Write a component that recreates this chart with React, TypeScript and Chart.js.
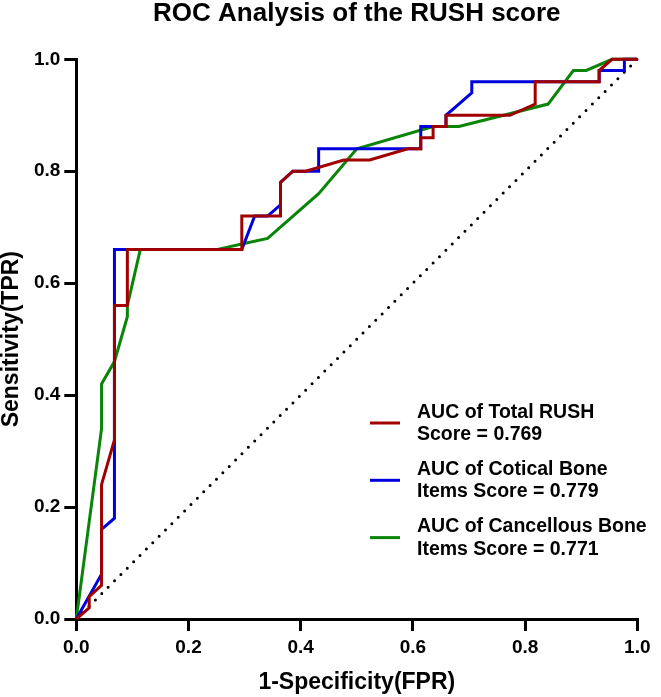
import React, { useEffect, useRef } from 'react';
import { Chart, registerables } from 'chart.js';

Chart.register(...registerables);

const TITLE = 'ROC Analysis of the RUSH score';
const X_TITLE = '1-Specificity(FPR)';
const Y_TITLE = 'Sensitivity(TPR)';
const TICK_VALUES = [0, 0.2, 0.4, 0.6, 0.8, 1.0];

// AUC of Total RUSH Score (red)
const TOTAL_FPR = [0, 0.023, 0.023, 0.045, 0.045, 0.068, 0.068, 0.091, 0.091, 0.295, 0.295, 0.364, 0.364, 0.386, 0.409, 0.477, 0.523, 0.591, 0.614, 0.614, 0.636, 0.636, 0.659, 0.659, 0.773, 0.818, 0.818, 0.932, 0.932, 0.955, 1.0];
const TOTAL_TPR = [0, 0.02, 0.04, 0.06, 0.24, 0.32, 0.56, 0.56, 0.66, 0.66, 0.72, 0.72, 0.78, 0.80, 0.80, 0.82, 0.82, 0.84, 0.84, 0.86, 0.86, 0.88, 0.88, 0.90, 0.90, 0.92, 0.96, 0.96, 0.98, 1.0, 1.0];

// AUC of Cotical Bone Items Score (blue)
const CORTICAL_FPR = [0, 0.045, 0.045, 0.068, 0.068, 0.295, 0.318, 0.341, 0.364, 0.364, 0.386, 0.432, 0.432, 0.614, 0.614, 0.659, 0.659, 0.705, 0.705, 0.932, 0.932, 0.977, 0.977, 1.0];
const CORTICAL_TPR = [0, 0.08, 0.16, 0.18, 0.66, 0.66, 0.72, 0.72, 0.74, 0.78, 0.80, 0.80, 0.84, 0.84, 0.88, 0.88, 0.90, 0.94, 0.96, 0.96, 0.98, 0.98, 1.0, 1.0];

// AUC of Cancellous Bone Items Score (green)
const CANCELLOUS_FPR = [0, 0.045, 0.045, 0.068, 0.091, 0.091, 0.114, 0.250, 0.295, 0.341, 0.432, 0.500, 0.636, 0.682, 0.841, 0.886, 0.909, 0.955, 1.0];
const CANCELLOUS_TPR = [0, 0.34, 0.42, 0.46, 0.54, 0.56, 0.66, 0.66, 0.67, 0.68, 0.76, 0.84, 0.88, 0.88, 0.92, 0.98, 0.98, 1.0, 1.0];

// Reference diagonal
const REF_FPR = [0, 1];
const REF_TPR = [0, 1];

const LEGEND_LABELS = [
  ['AUC of Total RUSH', 'Score = 0.769'],
  ['AUC of Cotical Bone', 'Items Score = 0.779'],
  ['AUC of Cancellous Bone', 'Items Score = 0.771'],
];

const RED = '#a00000';
const BLUE = '#0000dd';
const GREEN = '#0a850a';
const SERIES_COLORS = [RED, BLUE, GREEN];
const FONT_FAMILY = '"Liberation Sans", Arial, Helvetica, sans-serif';

const toPoints = (xs: number[], ys: number[]) => xs.map((x, i) => ({ x, y: ys[i] }));

const legendPlugin = {
  id: 'rocLegend',
  afterDraw(chart: any) {
    const ctx = chart.ctx as CanvasRenderingContext2D;
    ctx.save();
    ctx.font = `bold 19.5px ${FONT_FAMILY}`;
    ctx.textBaseline = 'middle';
    ctx.textAlign = 'left';
    LEGEND_LABELS.forEach((lines, i) => {
      const cy = 423 + i * 57.3;
      ctx.strokeStyle = SERIES_COLORS[i];
      ctx.lineWidth = 3;
      ctx.beginPath();
      ctx.moveTo(370, cy);
      ctx.lineTo(400, cy);
      ctx.stroke();
      ctx.fillStyle = '#000';
      lines.forEach((t, j) => {
        ctx.fillText(t, 417, cy + 0.5 + (j - (lines.length - 1) / 2) * 22.3);
      });
    });
    ctx.restore();
  },
};

function axisOptions(isX: boolean) {
  return {
    type: 'linear',
    min: 0,
    max: 1,
    afterFit: (s: any) => {
      if (isX) s.height = 78;
      else s.width = 76.3;
    },
    afterBuildTicks: (s: any) => {
      s.ticks = TICK_VALUES.map((v) => ({ value: v }));
    },
    border: { display: true, color: '#000', width: 3 },
    grid: {
      drawOnChartArea: false,
      drawTicks: true,
      tickLength: 12,
      tickWidth: 3,
      tickColor: '#000',
      color: '#000',
      lineWidth: 3,
    },
    ticks: {
      padding: isX ? 5.6 : 4,
      color: '#000',
      autoSkip: false,
      maxRotation: 0,
      font: { size: 19, weight: 'bold', family: FONT_FAMILY },
      callback: (v: any) => Number(v).toFixed(1),
    },
    title: {
      display: true,
      text: isX ? X_TITLE : Y_TITLE,
      color: '#000',
      font: { size: 23, weight: 'bold', family: FONT_FAMILY, lineHeight: isX ? 1.2 : 1.05 },
      padding: isX ? { top: 0, bottom: 0.2 } : { top: 0, bottom: 0 },
    },
  };
}

export default function App() {
  const canvasRef = useRef<HTMLCanvasElement | null>(null);

  useEffect(() => {
    const canvas = canvasRef.current;
    if (!canvas) return;
    const line = (label: string, xs: number[], ys: number[], color: string, extra: any = {}) => ({
      label,
      data: toPoints(xs, ys),
      showLine: true,
      borderColor: color,
      backgroundColor: color,
      borderWidth: 3,
      pointRadius: 0,
      pointHoverRadius: 0,
      tension: 0,
      fill: false,
      clip: 4,
      ...extra,
    });
    const chart = new Chart(canvas, {
      type: 'scatter',
      data: {
        datasets: [
          line('AUC of Total RUSH Score = 0.769', TOTAL_FPR, TOTAL_TPR, RED),
          line('AUC of Cotical Bone Items Score = 0.779', CORTICAL_FPR, CORTICAL_TPR, BLUE),
          line('AUC of Cancellous Bone Items Score = 0.771', CANCELLOUS_FPR, CANCELLOUS_TPR, GREEN),
          line('Reference', REF_FPR, REF_TPR, '#000', { borderDash: [0, 9], borderCapStyle: 'round' }),
        ],
      },
      options: {
        animation: false,
        responsive: false,
        devicePixelRatio: 1,
        layout: { padding: { left: 0, right: 23.7, top: 0, bottom: 0 } },
        font: { family: FONT_FAMILY },
        plugins: {
          legend: { display: false },
          tooltip: { enabled: false },
          title: {
            display: true,
            text: TITLE,
            fullSize: false,
            color: '#000',
            font: { size: 26, weight: 'bold', family: FONT_FAMILY, lineHeight: 1.1 },
            padding: { top: 0, bottom: 30.7 },
          },
        },
        scales: {
          x: axisOptions(true),
          y: axisOptions(false),
        },
      } as any,
      plugins: [legendPlugin],
    } as any);
    return () => chart.destroy();
  }, []);

  return (
    <div style={{ position: 'fixed', left: 0, top: 0, width: 661, height: 697, background: '#fff' }}>
      <canvas ref={canvasRef} width={661} height={697} style={{ display: 'block' }} />
    </div>
  );
}
